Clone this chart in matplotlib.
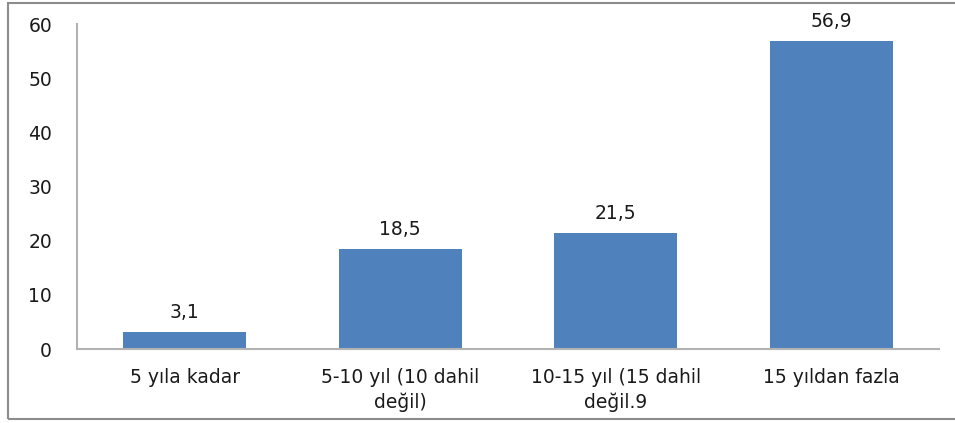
import matplotlib.pyplot as plt
from matplotlib.patches import Rectangle

categories = ["5 yıla kadar", "5-10 yıl (10 dahil\ndeğil)", "10-15 yıl (15 dahil\ndeğil.9", "15 yıldan fazla"]
values = [3.1, 18.5, 21.5, 56.9]
yticks = [0, 10, 20, 30, 40, 50, 60]

bar_color = "#4F81BD"
axis_color = "#B3B3B3"
text_color = "#1A1A1A"

plt.rcParams['font.family'] = ['DejaVu Sans']

fig = plt.figure(figsize=(9.55, 4.23), dpi=100)
ax = fig.add_axes([77 / 955, 74 / 423, 862 / 955, 325 / 423])

x = range(len(categories))
bars = ax.bar(x, values, width=0.57, color=bar_color)

for b, v in zip(bars, values):
    ax.annotate(("%.1f" % v).replace(".", ","), (b.get_x() + b.get_width() / 2, v),
                xytext=(0, 7), textcoords="offset points",
                ha="center", va="bottom", fontsize=13.5, color=text_color)

ax.set_xlim(-0.5, len(categories) - 0.5)
ax.set_ylim(0, 60)
ax.set_yticks(yticks)
ax.set_xticks(list(x))
ax.set_xticklabels(categories, fontsize=13.5, color=text_color, linespacing=1.3,
                   va="top", multialignment="center")
ax.tick_params(axis="x", length=0, pad=14)
ax.tick_params(axis="y", length=0, pad=18, labelsize=13.5, labelcolor=text_color)

for s in ["top", "right"]:
    ax.spines[s].set_visible(False)
for s in ["left", "bottom"]:
    ax.spines[s].set_color(axis_color)
    ax.spines[s].set_linewidth(1.5)

# chart frame
fig.patches.append(Rectangle((8 / 955, 4 / 423), 1.0, 416 / 423, transform=fig.transFigure,
                             fill=False, edgecolor="#8C8C8C", linewidth=1.5))

fig.savefig("out.png", dpi=100)
